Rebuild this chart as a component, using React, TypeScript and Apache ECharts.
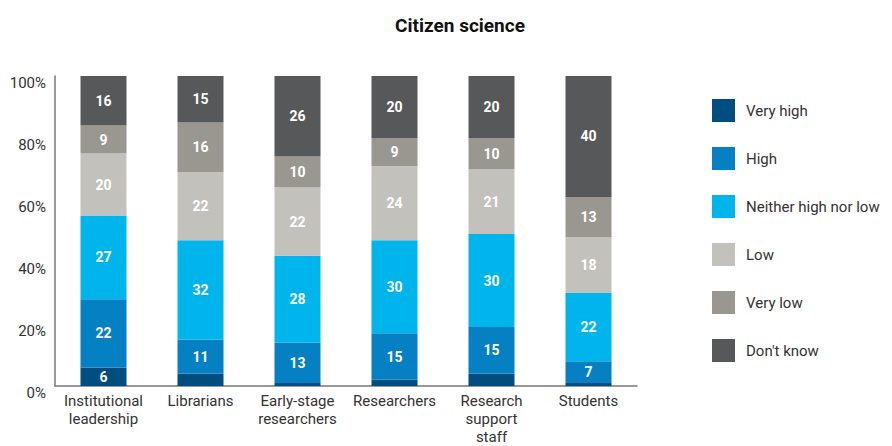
import React, { useEffect, useRef } from "react";
import * as echarts from "echarts";

const categories = [
  "Institutional\nleadership",
  "Librarians",
  "Early-stage\nresearchers",
  "Researchers",
  "Research\nsupport\nstaff",
  "Students",
];
const seriesNames = ["Very high", "High", "Neither high nor low", "Low", "Very low", "Don't know"];
const veryHigh = [6, 4, 1, 2, 4, 1];
const high = [22, 11, 13, 15, 15, 7];
const neither = [27, 32, 28, 30, 30, 22];
const low = [20, 22, 22, 24, 21, 18];
const veryLow = [9, 16, 10, 9, 10, 13];
const dontKnow = [16, 15, 26, 20, 20, 40];
const colors = ["#004e80", "#0480c3", "#00b5eb", "#c3c1bb", "#99978f", "#57585a"];
const yTicks = [0, 20, 40, 60, 80, 100];

const FONT = "Roboto, 'Noto Sans', sans-serif";

export default function App() {
  const ref = useRef<HTMLDivElement>(null);
  useEffect(() => {
    document.body.style.margin = "0";
    if (!ref.current) return;
    const chart = echarts.init(ref.current, undefined, { renderer: "svg" });
    const data = [veryHigh, high, neither, low, veryLow, dontKnow];
    chart.setOption({
      animation: false,
      textStyle: { fontFamily: FONT },
      title: {
        text: "Citizen science",
        left: 455,
        top: 11,
        textAlign: "center",
        textStyle: { fontFamily: FONT, fontSize: 19, fontWeight: "bold", color: "#111" },
      },
      legend: {
        orient: "vertical",
        left: 712,
        top: 99,
        padding: 0,
        itemWidth: 23,
        itemHeight: 23,
        itemGap: 25,
        icon: "rect",
        data: seriesNames,
        textStyle: { fontFamily: FONT, fontSize: 15, color: "#333", padding: [0, 0, 0, 6] },
      },
      grid: { left: 55, right: 255, top: 76, bottom: 55, containLabel: false },
      xAxis: {
        type: "category",
        data: categories,
        axisLine: { lineStyle: { color: "#777", width: 1.5 } },
        axisTick: { show: false },
        axisLabel: {
          fontFamily: FONT,
          fontSize: 15,
          color: "#333",
          lineHeight: 18,
          margin: 6,
          interval: 0,
        },
      },
      yAxis: {
        type: "value",
        min: 0,
        max: 100,
        interval: 20,
        splitLine: { show: false },
        axisLine: { show: true, lineStyle: { color: "#777", width: 1.5 } },
        axisTick: { show: false },
        axisLabel: {
          fontFamily: FONT,
          fontSize: 15,
          color: "#333",
          margin: 9,
          verticalAlign: "top",
          lineHeight: 14,
          formatter: (v: number) => (yTicks.includes(v) ? v + "%" : ""),
        },
      },
      series: seriesNames.map((name, i) => ({
        name,
        type: "bar",
        stack: "total",
        barWidth: 46,
        data: data[i],
        itemStyle: { color: colors[i] },
        label: {
          show: true,
          position: "inside",
          color: "#fff",
          fontFamily: FONT,
          fontSize: 14,
          fontWeight: "bold",
          formatter: (p: any) => (p.value >= 5 ? String(p.value) : ""),
        },
      })),
    });
    return () => chart.dispose();
  }, []);
  return <div ref={ref} style={{ width: 892, height: 446 }} />;
}
